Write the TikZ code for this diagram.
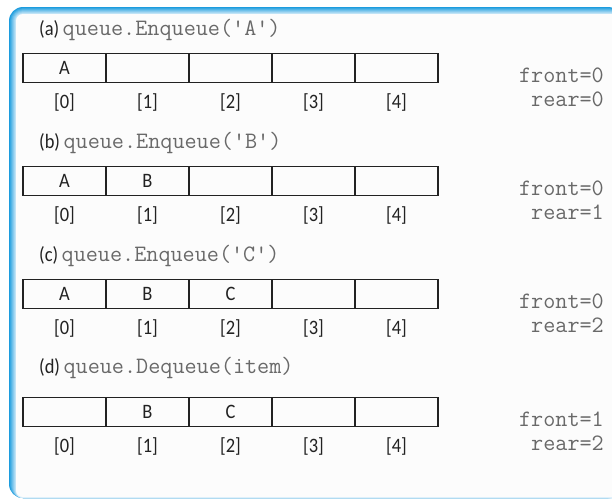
\documentclass[tikz,border=0pt]{standalone}
\usepackage{fontspec}
\newfontfamily\sansf[FakeStretch=0.9]{Carlito}
\definecolor{frameblue}{RGB}{28,156,222}
\definecolor{inkc}{RGB}{34,34,34}
\definecolor{monoc}{RGB}{105,105,105}
\definecolor{paper}{RGB}{252,252,252}
\newcommand{\codefont}{\ttfamily\fontsize{23.5}{23.5}\selectfont\color{monoc}}
\newcommand{\labfont}{\sansf\fontsize{20.5}{20.5}\selectfont}
\begin{document}
\begin{tikzpicture}[x=1pt,y=-1pt,
  cell/.style={draw=inkc, line width=1.2pt, minimum width=83pt, minimum height=29.4pt,
    inner sep=0pt, font=\labfont, text=inkc},
  idx/.style={inner sep=0pt, font=\labfont, text=inkc},
  lab/.style={anchor=west, inner sep=0pt, text=inkc, font=\labfont},
  ptr/.style={anchor=east, inner sep=0pt, font=\codefont}]
\useasboundingbox (0,0) rectangle (612,499);
\clip (0,0) rectangle (612,499);
\fill[white] (0,0) rectangle (612,499);
% frame with gradient border
\foreach \i in {0,...,7} {
  \pgfmathsetmacro\m{100-\i*12}
  \pgfmathsetmacro\rr{14-\i}
  \fill[frameblue!\m!white, rounded corners=\rr pt] (9+\i,7+\i) rectangle (622,498);
}
\fill[paper, rounded corners=7pt] (16,14) rectangle (622,497);

% (a)
\node[lab] (al) at (39,30) {(a)\hspace{3.5pt}{\codefont queue.Enqueue('A')}};
\foreach \i/\t in {0/A,1/{},2/{},3/{},4/{}} \node[cell] (a\i) at ({64.5+83*\i},68) {\t};
\foreach \i in {0,...,4} \node[idx] (ai\i) at ({64.5+83*\i},102) {[\i]};
\node[ptr] (af) at (604,75) {front=0};
\node[ptr] (ar) at (604,99) {rear=0};

% (b)
\node[lab] (bl) at (39,143) {(b)\hspace{3.5pt}{\codefont queue.Enqueue('B')}};
\foreach \i/\t in {0/A,1/B,2/{},3/{},4/{}} \node[cell] (b\i) at ({64.5+83*\i},181) {\t};
\foreach \i in {0,...,4} \node[idx] (bi\i) at ({64.5+83*\i},215) {[\i]};
\node[ptr] (bf) at (604,188) {front=0};
\node[ptr] (br) at (604,212) {rear=1};

% (c)
\node[lab] (cl) at (39,256) {(c)\hspace{3.5pt}{\codefont queue.Enqueue('C')}};
\foreach \i/\t in {0/A,1/B,2/C,3/{},4/{}} \node[cell] (c\i) at ({64.5+83*\i},294) {\t};
\foreach \i in {0,...,4} \node[idx] (ci\i) at ({64.5+83*\i},328) {[\i]};
\node[ptr] (cf) at (604,301) {front=0};
\node[ptr] (cr) at (604,325) {rear=2};

% (d)
\node[lab] (dl) at (39,368) {(d)\hspace{3.5pt}{\codefont queue.Dequeue(item)}};
\foreach \i/\t in {0/{},1/B,2/C,3/{},4/{}} \node[cell] (d\i) at ({64.5+83*\i},412) {\t};
\foreach \i in {0,...,4} \node[idx] (di\i) at ({64.5+83*\i},446) {[\i]};
\node[ptr] (df) at (604,419) {front=1};
\node[ptr] (dr) at (604,443) {rear=2};
\end{tikzpicture}
\end{document}
